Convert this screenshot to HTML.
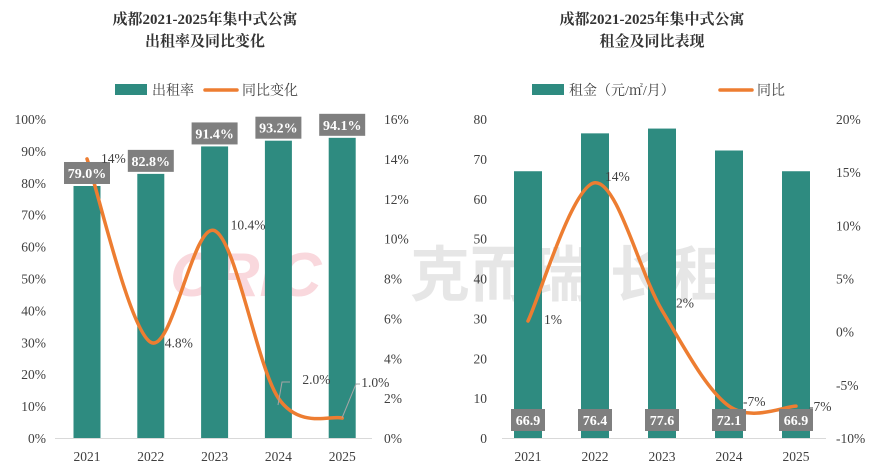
<!DOCTYPE html>
<html><head><meta charset="utf-8">
<style>
body{margin:0;background:#fff;}
svg{display:block;font-family:"Liberation Serif","Noto Serif CJK SC",serif;}
</style></head>
<body>
<svg id="c" width="880" height="475" viewBox="0 0 880 475">
  <text x="205" y="24" text-anchor="middle" font-size="15" font-weight="bold" fill="#333">成都2021-2025年集中式公寓</text>
  <text x="205" y="46" text-anchor="middle" font-size="15" font-weight="bold" fill="#333">出租率及同比变化</text>
  <text x="652" y="24" text-anchor="middle" font-size="15" font-weight="bold" fill="#333">成都2021-2025年集中式公寓</text>
  <text x="652" y="46" text-anchor="middle" font-size="15" font-weight="bold" fill="#333">租金及同比表现</text>
  <g opacity="0.18">
    <text x="170" y="296" font-size="62" font-weight="bold" font-style="italic" fill="#e0304a" font-family="Liberation Sans, sans-serif">CRIC</text>
    <text x="410" y="296" font-size="60" font-weight="bold" fill="#777" font-family="Liberation Sans, Noto Sans CJK SC, sans-serif">克而瑞·长租</text>
  </g>
  <g id="left"></g>
  <g id="right"></g>
</svg>
<script>
const years = ["2021","2022","2023","2024","2025"];
const occupancy = [79.0, 82.8, 91.4, 93.2, 94.1];
const occYoy = [14, 4.8, 10.4, 2.0, 1.0];
const occYoyLabels = ["14%","4.8%","10.4%","2.0%","1.0%"];
const rent = [66.9, 76.4, 77.6, 72.1, 66.9];
const rentYoy = [1, 14, 2, -7, -7];
const rentYoyLabels = ["1%","14%","2%","-7%","-7%"];
const leftTicks = ["0%","10%","20%","30%","40%","50%","60%","70%","80%","90%","100%"];
const leftRightTicks = ["0%","2%","4%","6%","8%","10%","12%","14%","16%"];
const rightTicks = ["0","10","20","30","40","50","60","70","80"];
const rightRightTicks = ["-10%","-5%","0%","5%","10%","15%","20%"];

const NS="http://www.w3.org/2000/svg";
const BAR="#2e8b80", LINE="#ed7d31", BOX="#7f7f7f", TXT="#404040";
function mk(parent,tag,attrs,text){const e=document.createElementNS(NS,tag);for(const k in attrs)e.setAttribute(k,attrs[k]);if(text!==undefined)e.textContent=text;parent.appendChild(e);return e;}
function smooth(pts){let d=`M${pts[0][0]},${pts[0][1]}`;for(let i=0;i<pts.length-1;i++){const p0=pts[i-1]||pts[i],p1=pts[i],p2=pts[i+1],p3=pts[i+2]||p2;const t=6;d+=` C${p1[0]+(p2[0]-p0[0])/t},${p1[1]+(p2[1]-p0[1])/t} ${p2[0]-(p3[0]-p1[0])/t},${p2[1]-(p3[1]-p1[1])/t} ${p2[0]},${p2[1]}`;}return d;}

function chart(g,o){
  const top=119,bot=438;
  const y=v=>bot-(v-o.lmin)/(o.lmax-o.lmin)*(bot-top);
  const y2=v=>bot-(v-o.rmin)/(o.rmax-o.rmin)*(bot-top);
  const x=i=>o.x0+i*o.step;
  mk(g,"rect",{x:o.legX,y:84,width:32,height:11,fill:BAR,});
  mk(g,"text",{x:o.legX+37,y:95,"font-size":14,fill:TXT,},o.barName);
  mk(g,"line",{x1:o.legX2,y1:90,x2:o.legX2+32,y2:90,stroke:LINE,"stroke-width":3.5,"stroke-linecap":"round",});
  mk(g,"text",{x:o.legX2+37,y:95,"font-size":14,fill:TXT,},o.lineName);
  o.lt.forEach((t,i)=>{const v=o.lmin+i*(o.lmax-o.lmin)/(o.lt.length-1);
    const e=mk(g,"text",{x:o.ltx,y:y(v)+5,"text-anchor":"end","font-size":13.5,fill:TXT},t);
    });
  o.rt.forEach((t,i)=>{const v=o.rmin+i*(o.rmax-o.rmin)/(o.rt.length-1);
    const e=mk(g,"text",{x:o.rtx,y:y2(v)+5,"text-anchor":"start","font-size":13.5,fill:TXT},t);
    });
  mk(g,"line",{x1:o.ax0,y1:bot+0.5,x2:o.ax1,y2:bot+0.5,stroke:"#d9d9d9","stroke-width":1,});
  years.forEach((yr,i)=>{const e=mk(g,"text",{x:x(i),y:461,"text-anchor":"middle","font-size":13.5,fill:TXT},yr);
    });
  o.bars.forEach((v,i)=>{const r=mk(g,"rect",{x:x(i)-o.bw/2,y:y(v),width:o.bw,height:bot-y(v),fill:BAR});
    });
  const pts=o.line.map((v,i)=>[x(i),y2(v)]);
  const p=mk(g,"path",{d:smooth(pts),fill:"none",stroke:LINE,"stroke-width":3.5,"stroke-linecap":"round"});
  
  o.bars.forEach((v,i)=>{const by=o.barLabelY?o.barLabelY:y(v)-24;const w=o.boxW;
    const r=mk(g,"rect",{x:x(i)-w/2,y:by,width:w,height:22,fill:BOX});
    
    const t=mk(g,"text",{x:x(i),y:by+16,"text-anchor":"middle","font-size":14,"font-weight":"bold",fill:"#fff"},o.barFmt(v));
    });
  o.lineLabels.forEach((s,i)=>{const off=o.lineOff[i];
    const t=mk(g,"text",{x:x(i)+off[0],y:y2(o.line[i])+off[1],"font-size":13.5,fill:TXT},s);
    });
  return {x,y2};
}
chart(document.getElementById("left"),{lmin:0,lmax:100,rmin:0,rmax:16,x0:87,step:63.8,bw:27,ltx:46,rtx:384,ax0:55,ax1:372,
  lt:leftTicks,rt:leftRightTicks,bars:occupancy,line:occYoy,lineLabels:occYoyLabels,barFmt:v=>v.toFixed(1)+"%",boxW:46,
  lineOff:[[14,4],[14,5],[16,-1],[24,-14],[19,-31]],barName:"出租率",lineName:"同比变化",legX:115,legX2:205});
const lg=document.getElementById("left");
[[3,"M278,405 L282,382 L290,382"],[4,"M342,418 L356,384 L360,384"]].forEach(a=>{const e=mk(lg,"path",{d:a[1],fill:"none",stroke:"#a6a6a6","stroke-width":1});
  });
chart(document.getElementById("right"),{lmin:0,lmax:80,rmin:-10,rmax:20,x0:528,step:67,bw:28,ltx:487,rtx:836,ax0:502,ax1:826,
  lt:rightTicks,rt:rightRightTicks,bars:rent,line:rentYoy,lineLabels:rentYoyLabels,barFmt:v=>v.toFixed(1),boxW:34,barLabelY:409,
  lineOff:[[16,3],[10,-2],[14,-3],[14,0],[13,5]],barName:"租金（元/㎡/月）",lineName:"同比",legX:532,legX2:720});
</script>
</body></html>
